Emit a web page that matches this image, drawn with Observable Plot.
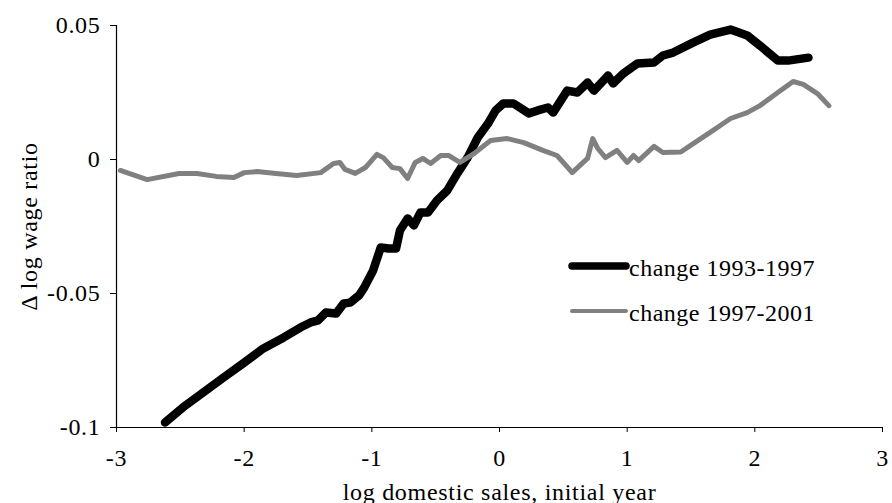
<!DOCTYPE html>
<html>
<head>
<meta charset="utf-8">
<script src="https://cdn.jsdelivr.net/npm/d3@7"></script>
<script src="https://cdn.jsdelivr.net/npm/@observablehq/plot@0.6"></script>
<style>
  body { margin: 0; background: #fff; }
  #wrap { position: relative; width: 892px; height: 503px; overflow: hidden; }
  #legend { position: absolute; left: 0; top: 0; pointer-events: none; }
</style>
</head>
<body>
<div id="wrap"></div>
<script>
// ---- data ----
const xTicks = [-3, -2, -1, 0, 1, 2, 3];
const xTickLabels = ["-3", "-2", "-1", "0", "1", "2", "3"];
const yTicks = [-0.1, -0.05, 0, 0.05];
const yTickLabels = ["-0.1", "-0.05", "0", "0.05"];
const xTitle = "log domestic sales, initial year";
const yTitle = "Δ log wage ratio";
const seriesNames = ["change 1993-1997", "change 1997-2001"];

const x9397 = [-2.62, -2.48, -2.32, -2.16, -2.02, -1.85, -1.69, -1.56, -1.48, -1.42, -1.36, -1.28, -1.22, -1.17, -1.10, -1.06, -0.99, -0.93, -0.87, -0.81, -0.78, -0.72, -0.67, -0.62, -0.56, -0.49, -0.41, -0.33, -0.25, -0.17, -0.09, -0.03, 0.03, 0.11, 0.23, 0.30, 0.38, 0.42, 0.53, 0.61, 0.69, 0.74, 0.85, 0.89, 0.97, 1.08, 1.21, 1.28, 1.36, 1.52, 1.65, 1.81, 1.94, 2.04, 2.18, 2.26, 2.42];
const y9397 = [-0.0981, -0.0925, -0.0869, -0.0813, -0.0765, -0.0705, -0.0664, -0.0627, -0.0608, -0.0600, -0.0571, -0.0575, -0.0537, -0.0534, -0.0507, -0.0478, -0.0414, -0.0328, -0.0332, -0.0332, -0.0265, -0.0220, -0.0246, -0.0198, -0.0198, -0.0153, -0.0116, -0.0052, 0.0007, 0.0082, 0.0134, 0.0183, 0.0209, 0.0209, 0.0172, 0.0183, 0.0194, 0.0175, 0.0257, 0.0250, 0.0287, 0.0257, 0.0313, 0.0284, 0.0321, 0.0358, 0.0362, 0.0388, 0.0399, 0.0437, 0.0466, 0.0485, 0.0463, 0.0425, 0.0369, 0.0369, 0.0380];

const x9701 = [-2.97, -2.76, -2.51, -2.37, -2.22, -2.08, -2.00, -1.90, -1.75, -1.59, -1.40, -1.30, -1.25, -1.21, -1.13, -1.05, -0.96, -0.91, -0.84, -0.78, -0.72, -0.66, -0.60, -0.54, -0.46, -0.40, -0.31, -0.20, -0.07, 0.06, 0.19, 0.34, 0.45, 0.50, 0.57, 0.63, 0.69, 0.73, 0.77, 0.83, 0.92, 1.00, 1.05, 1.09, 1.21, 1.28, 1.42, 1.52, 1.65, 1.81, 1.94, 2.04, 2.18, 2.30, 2.38, 2.49, 2.58];
const y9701 = [-0.0041, -0.0075, -0.0052, -0.0052, -0.0063, -0.0067, -0.0049, -0.0045, -0.0052, -0.0060, -0.0049, -0.0015, -0.0011, -0.0037, -0.0052, -0.0030, 0.0019, 0.0007, -0.0030, -0.0034, -0.0071, -0.0011, 0.0004, -0.0015, 0.0015, 0.0015, -0.0011, 0.0022, 0.0071, 0.0078, 0.0063, 0.0034, 0.0015, -0.0011, -0.0049, -0.0022, 0.0004, 0.0078, 0.0041, 0.0007, 0.0034, -0.0011, 0.0015, -0.0004, 0.0049, 0.0026, 0.0028, 0.0060, 0.0101, 0.0153, 0.0175, 0.0201, 0.0250, 0.0291, 0.0280, 0.0246, 0.0201];

const colors = ["#000000", "#808080"];
const widths = [8.5, 5];

const rows = (xs, ys) => xs.map((x, i) => ({x, y: ys[i]}));
const d1 = rows(x9397, y9397);
const d2 = rows(x9701, y9701);

const FONT = '"Liberation Serif", "Times New Roman", serif';

const chart = Plot.plot({
  width: 892,
  height: 503,
  marginLeft: 116,
  marginRight: 10,
  marginTop: 25,
  marginBottom: 76,
  style: {fontFamily: FONT, fontSize: "24px", letterSpacing: "0.7px", color: "#000", background: "#fff"},
  x: {domain: [-3, 3]},
  y: {domain: [-0.1, 0.05]},
  marks: [
    Plot.axisY({
      ticks: yTicks,
      tickFormat: d => yTickLabels[yTicks.indexOf(d)],
      tickSize: 6,
      tickPadding: 10,
      label: yTitle,
      labelAnchor: "center",
      labelOffset: 97,
      labelArrow: "none"
    }),
    Plot.axisX({
      ticks: xTicks,
      tickFormat: d => xTickLabels[xTicks.indexOf(d)],
      tickSize: 5,
      tickPadding: 16,
      label: xTitle,
      labelAnchor: "center",
      labelOffset: 72,
      labelArrow: "none"
    }),
    Plot.ruleX([-3], {stroke: "#000", strokeWidth: 1.2}),
    Plot.ruleY([-0.1], {stroke: "#000", strokeWidth: 1.2}),
    Plot.line(d1, {x: "x", y: "y", stroke: colors[0], strokeWidth: widths[0], strokeLinecap: "round", strokeLinejoin: "round"}),
    Plot.line(d2, {x: "x", y: "y", stroke: colors[1], strokeWidth: widths[1], strokeLinecap: "round", strokeLinejoin: "round"})
  ]
});

const wrap = document.getElementById("wrap");
wrap.appendChild(chart);

// legend overlay
const NS = "http://www.w3.org/2000/svg";
const leg = document.createElementNS(NS, "svg");
leg.setAttribute("id", "legend");
leg.setAttribute("width", 892);
leg.setAttribute("height", 503);
const legRows = [266, 311];
seriesNames.forEach((name, i) => {
  const ln = document.createElementNS(NS, "line");
  ln.setAttribute("x1", 572); ln.setAttribute("x2", 626);
  ln.setAttribute("y1", legRows[i]); ln.setAttribute("y2", legRows[i]);
  ln.setAttribute("stroke", colors[i]);
  ln.setAttribute("stroke-width", widths[i] - 1);
  ln.setAttribute("stroke-linecap", "round");
  leg.appendChild(ln);
  const t = document.createElementNS(NS, "text");
  t.setAttribute("x", 629);
  t.setAttribute("y", legRows[i] + 10);
  t.setAttribute("font-family", FONT);
  t.setAttribute("font-size", "24px");
  t.setAttribute("letter-spacing", "0.5px");
  t.setAttribute("fill", "#000");
  t.textContent = name;
  leg.appendChild(t);
});
wrap.appendChild(leg);
</script>
</body>
</html>
